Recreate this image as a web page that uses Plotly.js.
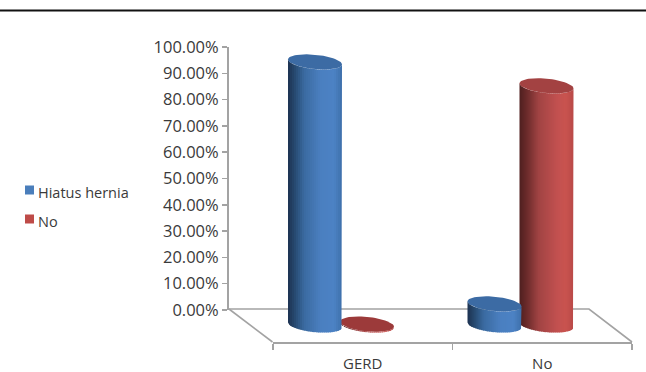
<!DOCTYPE html>
<html>
<head>
<meta charset="utf-8">
<script src="https://cdn.plot.ly/plotly-3.0.1.min.js"></script>
<style>html,body{margin:0;padding:0;background:#fff}#chart{width:646px;height:372px}</style>
</head>
<body>
<div id="chart"></div>
<script>
// Share of patients with and without hiatus hernia in each group
const categories = ['GERD', 'No'];
const hiatusHernia = [0.923, 0.074];
const noHernia = [0.003, 0.839];
const seriesNames = ['Hiatus hernia', 'No'];

const W = 646, H = 372;
const FONT = '"Open Sans", "Noto Sans", sans-serif';
const TEXT = '#3a3a3a';
const GRID = '#a3a3a3';
const BLUE_KEY = '#4a7ebb', RED_KEY = '#be4b48';

// Cylinders stand on a floor set forward of the value axis, so they use a
// full-page hidden axis pair: one unit of x is one category slot, and height
// is scaled to suit the oblique projection.
const slotPx = 179.5, firstSlotPx = 341, seriesOffsetPx = 26;
const radiusPx = 27, rimTiltPx = 2.5, rimDepthPx = 7.2;
const baselinePx = 325, heightScalePx = 285;
const toU = px => (px - firstSlotPx) / slotPx;
const toV = px => (baselinePx - px) / heightScalePx;

function mix(stops, f) {
  for (let i = 1; i < stops.length; i++) {
    if (f <= stops[i][0]) {
      const a = stops[i - 1], b = stops[i];
      const m = (f - a[0]) / (b[0] - a[0]);
      const c = [1, 2, 3].map(k => Math.round(a[k] + (b[k] - a[k]) * m));
      return `rgb(${c.join(',')})`;
    }
  }
  return `rgb(${stops[stops.length - 1].slice(1).join(',')})`;
}

const blueShade = [[0, 28, 50, 80], [0.12, 38, 72, 110], [0.3, 58, 106, 160], [0.6, 74, 127, 192], [0.85, 76, 130, 196], [1, 62, 112, 171]];
const redShade = [[0, 78, 32, 32], [0.15, 110, 44, 44], [0.35, 160, 67, 67], [0.7, 194, 81, 80], [0.85, 201, 83, 79], [1, 185, 74, 72]];

const hiddenAxes = { xaxis: 'x2', yaxis: 'y2', hoverinfo: 'skip', showlegend: false };

function cylinder(slot, offsetPx, value, shade, capColor) {
  const out = [];
  const cx = firstSlotPx + slot * slotPx + offsetPx;
  const cBase = baselinePx;
  const cTop = baselinePx - value * heightScalePx;
  const lower = (c, t) => c + rimTiltPx * t + rimDepthPx * Math.sqrt(Math.max(0, 1 - t * t));
  const strips = 27;
  for (let i = 0; i < strips; i++) {
    const t0 = -1 + 2 * i / strips;
    const t1 = Math.min(1, t0 + 2 / strips + 0.02);
    const xs = [], ys = [];
    const n = 4;
    for (let j = 0; j <= n; j++) {
      const t = t0 + (t1 - t0) * j / n;
      xs.push(toU(cx + radiusPx * t));
      ys.push(toV(lower(cTop, t)));
    }
    for (let j = n; j >= 0; j--) {
      const t = t0 + (t1 - t0) * j / n;
      xs.push(toU(cx + radiusPx * t));
      ys.push(toV(lower(cBase, t)));
    }
    out.push({ ...hiddenAxes, type: 'scatter', mode: 'lines', x: xs, y: ys, fill: 'toself',
      fillcolor: mix(shade, (i + 0.5) / strips), line: { width: 0 } });
  }
  const capX = [], capY = [];
  for (let a = 0; a <= 60; a++) {
    const th = a / 60 * 2 * Math.PI;
    capX.push(toU(cx + radiusPx * Math.cos(th)));
    capY.push(toV(cTop + rimTiltPx * Math.cos(th) + rimDepthPx * Math.sin(th)));
  }
  out.push({ ...hiddenAxes, type: 'scatter', mode: 'lines', x: capX, y: capY, fill: 'toself',
    fillcolor: capColor, line: { width: 0 } });
  return out;
}

// Floor edges behind the bars; the front edge is the category axis itself
const floorLine = (pts) => ({ ...hiddenAxes, type: 'scatter', mode: 'lines',
  x: pts.map(p => toU(p[0])), y: pts.map(p => toV(p[1])), line: { color: GRID, width: 1.6 } });

// Legend keys sit tight against their labels
const legendKey = (yPx, color, name) => ({ ...hiddenAxes, type: 'scatter', mode: 'markers', name,
  x: [toU(29.5)], y: [toV(yPx)], marker: { symbol: 'square', size: 9, color } });
const legendLabel = (yPx, text) => ({ xref: 'paper', yref: 'paper', x: 36 / W, y: (H - yPx) / H,
  xanchor: 'left', yanchor: 'middle', text, showarrow: false, font: { family: FONT, size: 14.5, color: TEXT } });

const traces = [
  // Keeps the visible axes on the page
  { type: 'scatter', mode: 'markers', x: categories, y: [null, null], showlegend: false, hoverinfo: 'skip' },
  floorLine([[229, 309], [589, 309], [632, 342]]),
  floorLine([[229, 309], [272.5, 342]]),
  legendKey(190, BLUE_KEY, seriesNames[0]),
  legendKey(219, RED_KEY, seriesNames[1])
];
categories.forEach((c, i) => {
  traces.push(...cylinder(i, seriesOffsetPx, noHernia[i], redShade, i === 0 ? '#9c3a3a' : '#a34242'));
  traces.push(...cylinder(i, -seriesOffsetPx, hiatusHernia[i], blueShade, '#3c6ba4'));
});

const layout = {
  width: W, height: H,
  margin: { l: 0, r: 0, t: 0, b: 0 },
  paper_bgcolor: '#fff', plot_bgcolor: 'rgba(0,0,0,0)',
  font: { family: FONT, color: TEXT, size: 15 },
  showlegend: false,
  xaxis: {
    type: 'category', categoryorder: 'array', categoryarray: categories, range: [-0.5, 1.5],
    domain: [273 / W, 632 / W], anchor: 'free', position: (H - 342) / H,
    tickson: 'boundaries', ticks: 'outside', ticklen: 6, tickwidth: 1.5, tickcolor: GRID,
    showline: true, linecolor: GRID, linewidth: 1.6, showgrid: false, zeroline: false,
    tickfont: { family: FONT, size: 15, color: TEXT }, ticklabelstandoff: 7, fixedrange: true
  },
  yaxis: {
    range: [0, 1], dtick: 0.1, tickformat: '.2%',
    domain: [(H - 310) / H, (H - 47) / H], anchor: 'free', position: 228 / W, side: 'left',
    ticks: 'outside', ticklen: 5, tickwidth: 1.5, tickcolor: GRID,
    showline: true, linecolor: GRID, linewidth: 2, showgrid: false, zeroline: false,
    tickfont: { family: FONT, size: 16.5, color: TEXT }, fixedrange: true
  },
  xaxis2: { domain: [0, 1], range: [toU(0), toU(W)], visible: false, anchor: 'y2', fixedrange: true },
  yaxis2: { domain: [0, 1], range: [toV(H), toV(0)], visible: false, anchor: 'x2', fixedrange: true },
  annotations: [legendLabel(192, seriesNames[0]), legendLabel(221, seriesNames[1])],
  shapes: [
    { type: 'line', xref: 'paper', yref: 'paper', x0: 0, x1: 1, y0: (H - 10.5) / H, y1: (H - 10.5) / H,
      line: { color: '#111', width: 2 } }
  ]
};

Plotly.newPlot('chart', traces, layout, { displayModeBar: false, staticPlot: true });
</script>
</body>
</html>
